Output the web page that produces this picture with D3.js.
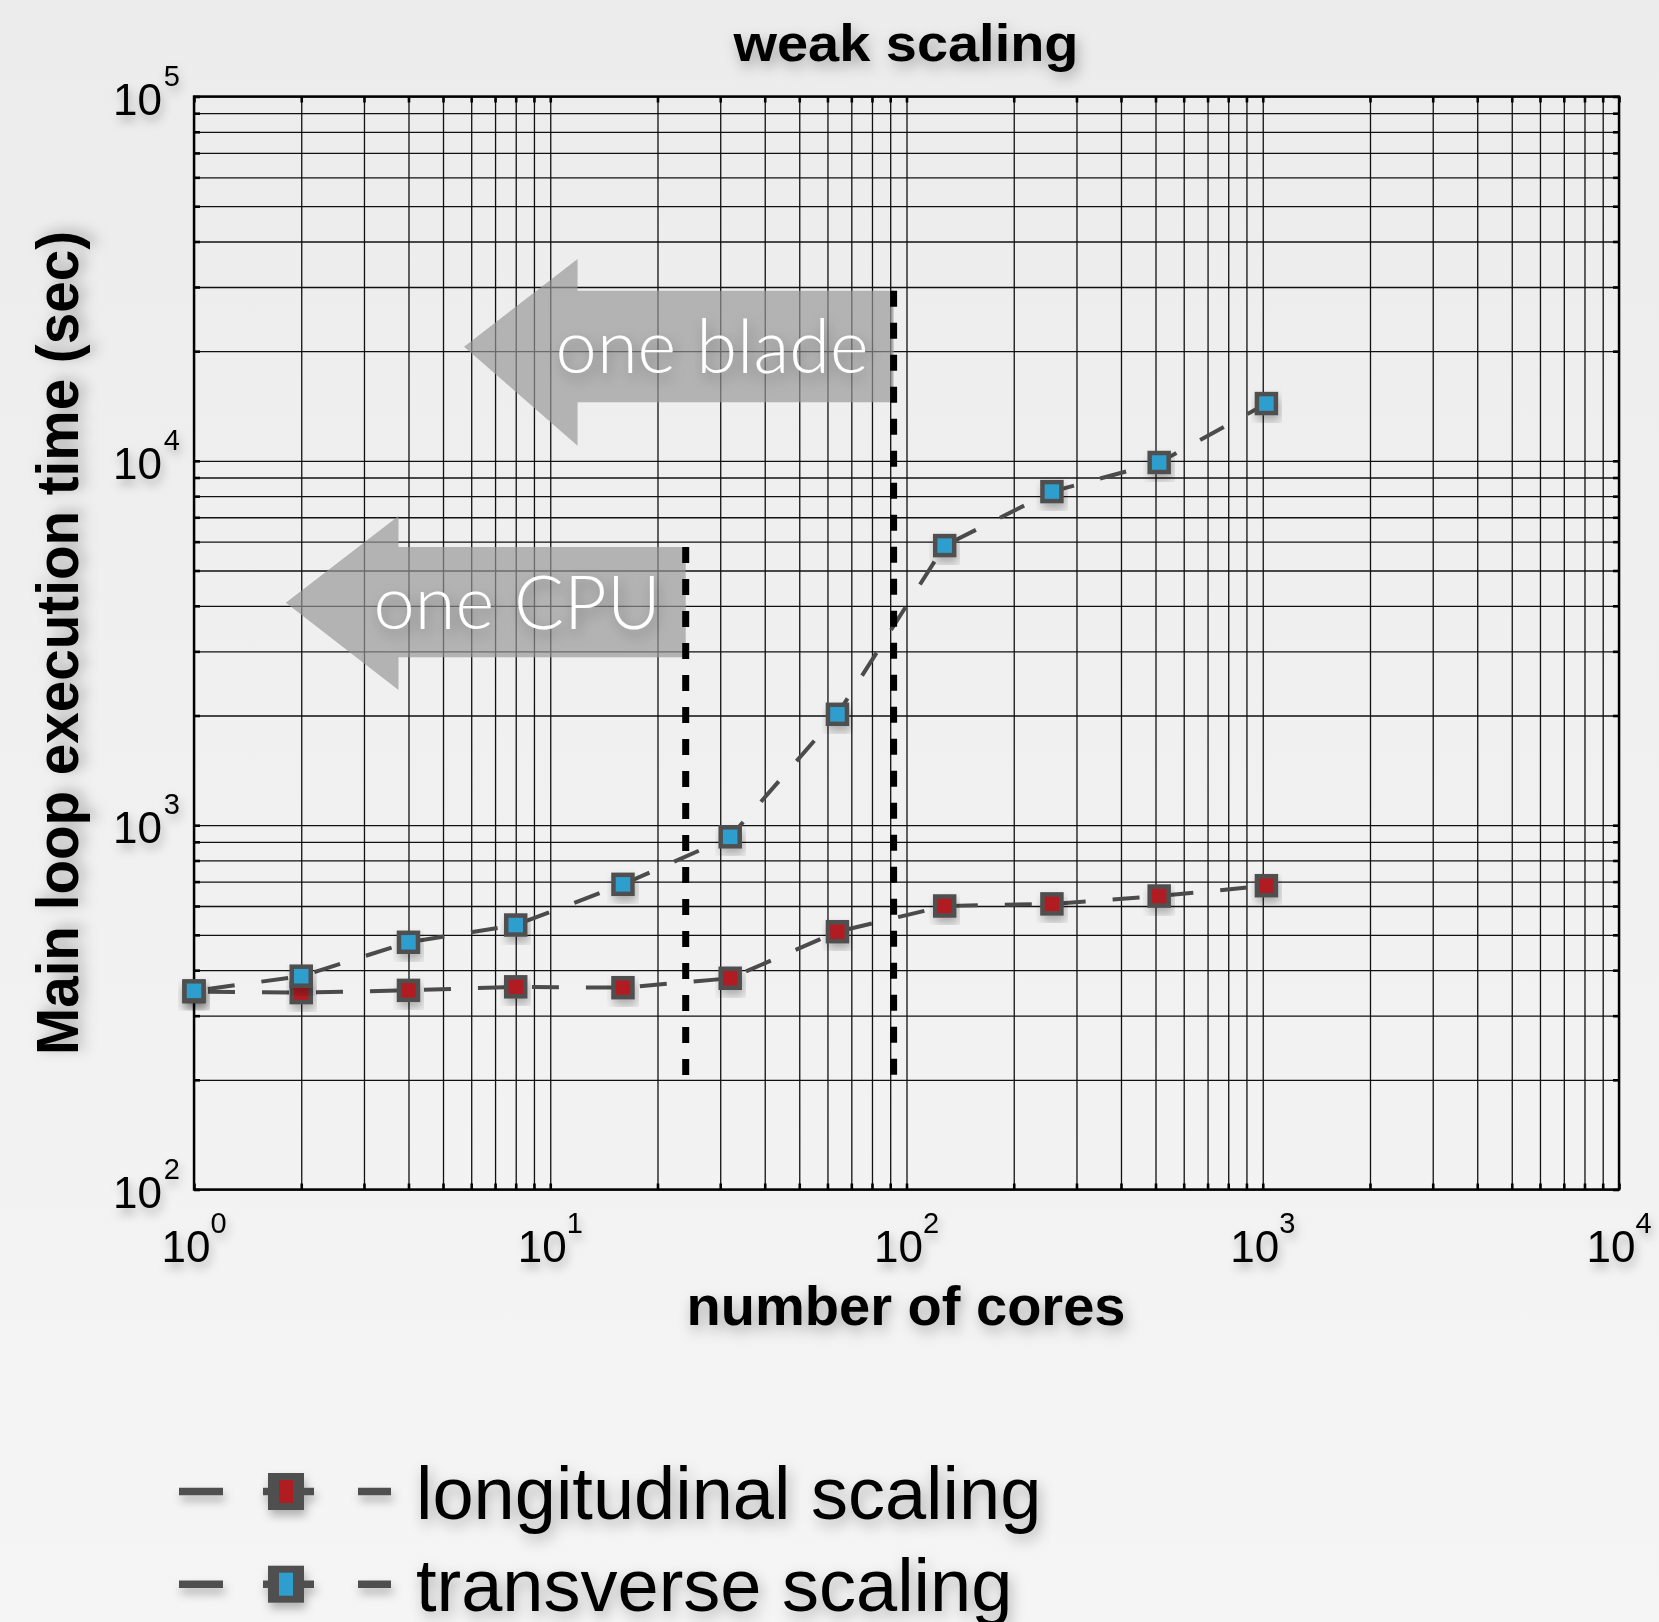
<!DOCTYPE html>
<html><head><meta charset="utf-8">
<script src="https://cdn.jsdelivr.net/npm/d3@7"></script>
<style>
html,body{margin:0;padding:0;background:#f0f0f0;}
svg{display:block;}
</style></head><body>
<svg id="chart" width="1659" height="1622"></svg>
<script>
// ---------- data ----------
const cores = [1, 2, 4, 8, 16, 32, 64, 128, 256, 512, 1024];
const longitudinal = [349, 347, 352, 360, 358, 380, 510, 600, 608, 639, 682];
const transverse = [351, 385, 477, 532, 688, 929, 2015, 5853, 8233, 9895, 14360];
const seriesNames = ["longitudinal scaling", "transverse scaling"];
const seriesColors = ["#b01e23", "#2e9ecf"];
const xMajor = [1, 10, 100, 1000, 10000];
const xExponents = ["0", "1", "2", "3", "4"];
const yMajor = [100, 1000, 10000, 100000];
const yExponents = ["2", "3", "4", "5"];
const titleText = "weak scaling";
const xLabelText = "number of cores";
const yLabelText = "Main loop execution time (sec)";
// annotation limits (cores / seconds)
const limitLines = [
  {name: "one CPU", cores: 24, top: 5800, bottom: 200},
  {name: "one blade", cores: 92, top: 29300, bottom: 200}
];
const arrows = [
  {text: "one CPU", tip: 1.81, head: 3.75, right: 24, bodyTop: 5800, bodyBottom: 2890, tipY: 4077, headTop: 7060, headBottom: 2350},
  {text: "one blade", tip: 5.73, head: 11.93, right: 92, bodyTop: 29300, bodyBottom: 14480, tipY: 20570, headTop: 35800, headBottom: 11000}
];

// ---------- layout ----------
const W = 1659, H = 1622;
const plot = {left: 194, right: 1619, top: 96.5, bottom: 1189.5};
const svg = d3.select("#chart");

const defs = svg.append("defs");
const bg = defs.append("linearGradient").attr("id", "bg").attr("x1", 0).attr("y1", 0).attr("x2", 0).attr("y2", 1);
bg.append("stop").attr("offset", "0%").attr("stop-color", "#ececec");
bg.append("stop").attr("offset", "100%").attr("stop-color", "#f5f5f5");
const f = defs.append("filter").attr("id", "sh").attr("x", "-30%").attr("y", "-30%").attr("width", "160%").attr("height", "180%");
f.append("feDropShadow").attr("dx", 2).attr("dy", 6).attr("stdDeviation", 5).attr("flood-color", "#000").attr("flood-opacity", 0.28);
const f2 = defs.append("filter").attr("id", "sh2").attr("x", "-30%").attr("y", "-30%").attr("width", "160%").attr("height", "180%");
f2.append("feDropShadow").attr("dx", 3).attr("dy", 6).attr("stdDeviation", 7).attr("flood-color", "#000").attr("flood-opacity", 0.3);

svg.append("rect").attr("width", W).attr("height", H).attr("fill", "url(#bg)");

const x = d3.scaleLog().domain([1, 10000]).range([plot.left, plot.right]);
const y = d3.scaleLog().domain([100, 100000]).range([plot.bottom, plot.top]);

// minor + major grid values
const gridX = [], gridY = [];
[1, 10, 100, 1000].forEach(d => { for (let k = 1; k <= 9; k++) gridX.push(d * k); });
gridX.push(10000);
[100, 1000, 10000].forEach(d => { for (let k = 1; k <= 9; k++) gridY.push(d * k); });
gridY.push(100000);

const H_ = plot.bottom - plot.top, W_ = plot.right - plot.left;

// grid via axes
const gx = svg.append("g").attr("transform", `translate(0,${plot.bottom})`)
  .call(d3.axisBottom(x).tickValues(gridX).tickSize(-H_).tickFormat(""));
const gy = svg.append("g").attr("transform", `translate(${plot.left},0)`)
  .call(d3.axisLeft(y).tickValues(gridY).tickSize(-W_).tickFormat(""));
[gx, gy].forEach(g => {
  g.select(".domain").remove();
  g.selectAll(".tick line").attr("stroke", "#111").attr("stroke-width", 1.3);
});

// small inner tick stubs on all four sides
const stubs = svg.append("g").attr("stroke", "#000").attr("stroke-width", 3);
svg.append("g").attr("transform", `translate(0,${plot.bottom})`)
  .call(d3.axisTop(x).tickValues(gridX).tickSize(6).tickFormat(""))
  .call(g => { g.select(".domain").remove(); g.selectAll("line").attr("stroke", "#000").attr("stroke-width", 2.6); });
svg.append("g").attr("transform", `translate(0,${plot.top})`)
  .call(d3.axisBottom(x).tickValues(gridX).tickSize(6).tickFormat(""))
  .call(g => { g.select(".domain").remove(); g.selectAll("line").attr("stroke", "#000").attr("stroke-width", 2.6); });
svg.append("g").attr("transform", `translate(${plot.left},0)`)
  .call(d3.axisRight(y).tickValues(gridY).tickSize(6).tickFormat(""))
  .call(g => { g.select(".domain").remove(); g.selectAll("line").attr("stroke", "#000").attr("stroke-width", 2.6); });
svg.append("g").attr("transform", `translate(${plot.right},0)`)
  .call(d3.axisLeft(y).tickValues(gridY).tickSize(6).tickFormat(""))
  .call(g => { g.select(".domain").remove(); g.selectAll("line").attr("stroke", "#000").attr("stroke-width", 2.6); });

// frame
svg.append("rect").attr("x", plot.left).attr("y", plot.top).attr("width", W_).attr("height", H_)
  .attr("fill", "none").attr("stroke", "#000").attr("stroke-width", 2.4);

// tick labels
const tickFont = "'Liberation Sans', Arial, Helvetica, sans-serif";
const xl = svg.append("g").attr("filter", "url(#sh)");
xMajor.forEach((v, i) => {
  const t = xl.append("text").attr("x", x(v)).attr("y", plot.bottom + 72).attr("text-anchor", "middle")
    .attr("font-family", tickFont).attr("font-size", 44).attr("fill", "#000");
  t.append("tspan").text("10");
  t.append("tspan").attr("dy", -29).attr("font-size", 29).text(xExponents[i]);
});
yMajor.forEach((v, i) => {
  const t = xl.append("text").attr("x", 180).attr("y", y(v) + 18).attr("text-anchor", "end")
    .attr("font-family", tickFont).attr("font-size", 44).attr("fill", "#000");
  t.append("tspan").text("10");
  t.append("tspan").attr("dy", -29).attr("font-size", 29).attr("dx", 2).text(yExponents[i]);
});

// arrows
arrows.forEach(a => {
  const pts = [
    [x(a.tip), y(a.tipY)], [x(a.head), y(a.headTop)], [x(a.head), y(a.bodyTop)],
    [x(a.right), y(a.bodyTop)], [x(a.right), y(a.bodyBottom)], [x(a.head), y(a.bodyBottom)],
    [x(a.head), y(a.headBottom)]
  ];
  svg.append("path").attr("d", d3.line()(pts) + "Z").attr("fill", "#969696").attr("fill-opacity", 0.68);
  svg.append("text").attr("x", x(a.right) - 25).attr("y", y(a.tipY) + 26).attr("text-anchor", "end")
    .attr("font-family", "Lato, 'Open Sans', sans-serif").attr("font-weight", 300).attr("font-size", 74)
    .attr("fill", "#fff").attr("filter", "url(#sh2)").text(a.text);
});

// series lines
const line = d3.line().x(d => x(d[0])).y(d => y(d[1]));
const series = [longitudinal, transverse];
series.forEach((vals, si) => {
  svg.append("path").datum(cores.map((c, i) => [c, vals[i]])).attr("d", line)
    .attr("fill", "none").attr("stroke", "#4b4b4b").attr("stroke-width", 4).attr("stroke-dasharray", "27,27")
    .attr("stroke-dashoffset", -14);
});

// limit dotted lines
limitLines.forEach(l => {
  svg.append("line").attr("x1", x(l.cores)).attr("x2", x(l.cores)).attr("y1", y(l.top)).attr("y2", y(l.bottom))
    .attr("stroke", "#000").attr("stroke-width", 7).attr("stroke-dasharray", "16,16");
});

// markers
series.forEach((vals, si) => {
  svg.append("g").selectAll("rect").data(cores.map((c, i) => [c, vals[i]])).join("rect")
    .attr("x", d => x(d[0]) - 9.5).attr("y", d => y(d[1]) - 9.5).attr("width", 19).attr("height", 19)
    .attr("fill", seriesColors[si]).attr("stroke", "#505050").attr("stroke-width", 4.5)
    .attr("filter", "url(#sh)");
});

// titles
const boldFont = "'Liberation Sans', Arial, Helvetica, sans-serif";
svg.append("text").attr("x", 906).attr("y", 61).attr("text-anchor", "middle")
  .attr("font-family", boldFont).attr("font-weight", "bold").attr("font-size", 52)
  .attr("textLength", 345).attr("lengthAdjust", "spacingAndGlyphs")
  .attr("filter", "url(#sh2)").text(titleText);
svg.append("text").attr("x", 906).attr("y", 1325).attr("text-anchor", "middle")
  .attr("font-family", boldFont).attr("font-weight", "bold").attr("font-size", 56)
  .attr("textLength", 439).attr("lengthAdjust", "spacingAndGlyphs")
  .attr("filter", "url(#sh2)").text(xLabelText);
svg.append("text").attr("transform", `translate(78,643) rotate(-90)`).attr("text-anchor", "middle")
  .attr("font-family", boldFont).attr("font-weight", "bold").attr("font-size", 60)
  .attr("textLength", 824).attr("lengthAdjust", "spacingAndGlyphs")
  .attr("filter", "url(#sh2)").text(yLabelText);

// legend
const leg = svg.append("g");
const legY0 = 1491.5, legDy = 92.7;
seriesNames.forEach((name, i) => {
  const cy = legY0 + i * legDy;
  const g = leg.append("g").attr("filter", "url(#sh)");
  g.append("path").attr("d", `M179,${cy}H391`).attr("stroke", "#505050").attr("stroke-width", 7.5)
    .attr("stroke-dasharray", "44,40,51,44,33");
  g.append("rect").attr("x", 268).attr("y", cy - 18.5).attr("width", 36).attr("height", 37).attr("fill", "#505050");
  g.append("rect").attr("x", 279).attr("y", cy - 11.5).attr("width", 14).attr("height", 23).attr("fill", seriesColors[i]);
  leg.append("text").attr("x", 416).attr("y", cy + 27).attr("font-family", tickFont).attr("font-size", 74)
    .attr("fill", "#000").attr("filter", "url(#sh2)").text(name);
});
</script>
</body></html>
